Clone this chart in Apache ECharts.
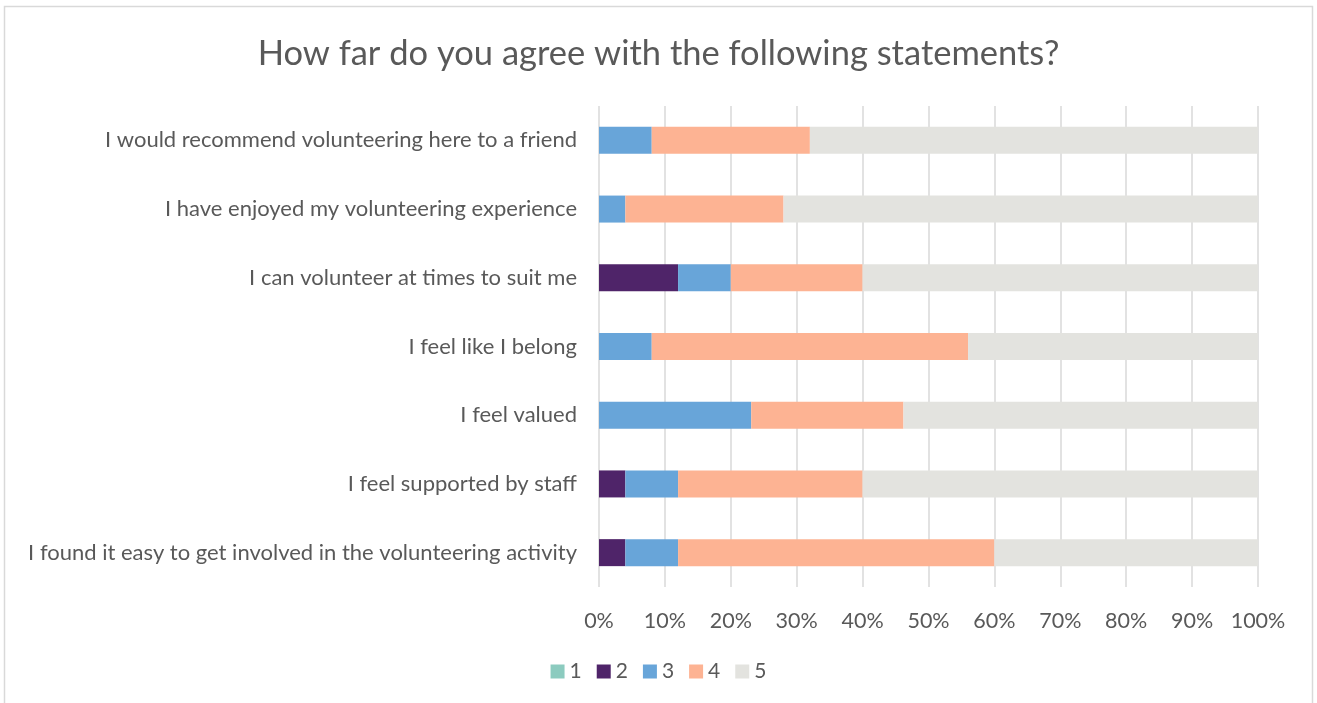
<!DOCTYPE html>
<html>
<head>
<meta charset="utf-8">
<script src="https://cdn.jsdelivr.net/npm/echarts@6/dist/echarts.min.js"></script>
<style>
  html, body { margin: 0; padding: 0; background: #fff; }
  #main { width: 1317px; height: 703px; }
</style>
</head>
<body>
<div id="main"></div>
<script>
// statements, bottom to top as drawn
const statements = [
  "I found it easy to get involved in the volunteering activity",
  "I feel supported by staff",
  "I feel valued",
  "I feel like I belong",
  "I can volunteer at times to suit me",
  "I have enjoyed my volunteering experience",
  "I would recommend volunteering here to a friend"
];
// share of answers (%) for each rating, same order as statements
const rating1 = [0, 0, 0, 0, 0, 0, 0];
const rating2 = [4, 4, 0, 0, 12, 0, 0];
const rating3 = [8, 8, 23.1, 8, 8, 4, 8];
const rating4 = [48, 28, 23.1, 48, 20, 24, 24];
const rating5 = [40, 60, 53.8, 44, 60, 72, 68];
const ratingNames = ["1", "2", "3", "4", "5"];
const colors = ["#8ccbbf", "#4f2469", "#68a5d9", "#fdb393", "#e3e3df"];

const font = "Lato, 'Open Sans', sans-serif";
const allRatings = [rating1, rating2, rating3, rating4, rating5];

var myChart = echarts.init(document.getElementById("main"));
myChart.setOption({
  animation: false,
  color: colors,
  title: {
    text: "How far do you agree with the following statements?",
    left: "center",
    top: 31,
    textStyle: { fontFamily: font, fontSize: 34.5, fontWeight: "normal", color: "#595959" }
  },
  legend: {
    bottom: 16,
    left: "center",
    itemWidth: 14,
    itemHeight: 14,
    itemGap: 15,
    icon: "rect",
    textStyle: { fontFamily: font, fontSize: 21, color: "#595959" },
    data: ratingNames
  },
  grid: { left: 599, right: 59, top: 106, bottom: 116 },
  xAxis: {
    type: "value",
    min: 0,
    max: 100,
    interval: 10,
    axisLine: { show: false },
    axisTick: { show: false },
    splitLine: { lineStyle: { color: "#d9d9d9", width: 1.5 } },
    axisLabel: {
      formatter: "{value}%",
      margin: 23,
      fontFamily: font, fontSize: 21.5, color: "#595959"
    }
  },
  yAxis: {
    type: "category",
    data: statements,
    axisLine: { show: false },
    axisTick: { show: false },
    axisLabel: { margin: 22, fontFamily: font, fontSize: 22, color: "#595959" }
  },
  graphic: [{
    type: "rect",
    shape: { x: 4.5, y: 6.5, width: 1308, height: 710 },
    style: { fill: "none", stroke: "#d9d9d9", lineWidth: 1.5 },
    silent: true
  }],
  series: ratingNames.map((name, i) => ({
    name: name,
    type: "bar",
    stack: "total",
    barWidth: 27,
    itemStyle: { color: colors[i] },
    data: allRatings[i]
  }))
});
</script>
</body>
</html>
